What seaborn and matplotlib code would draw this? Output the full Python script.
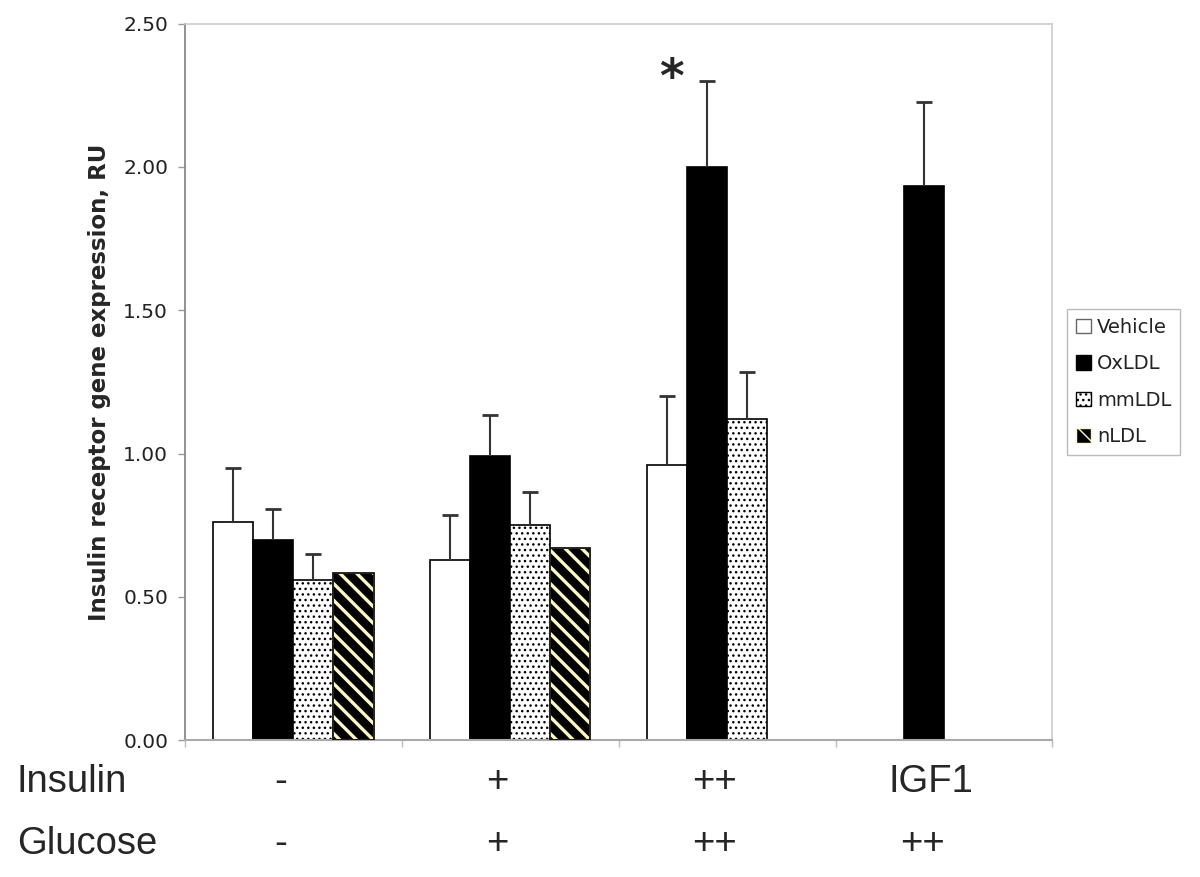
import numpy as np
import pandas as pd
import matplotlib
matplotlib.use("Agg")
import matplotlib.pyplot as plt
from matplotlib.patches import Patch, Rectangle
from matplotlib.ticker import FixedLocator, FormatStrFormatter
import seaborn as sns

sns.set_style("white")
plt.rcParams["font.family"] = ["DejaVu Sans"]
plt.rcParams["hatch.linewidth"] = 1.0

# ---- data ----
conditions = ["ctrl", "ins", "ins2", "igf1"]
insulin_labels = ["-", "+", "++", "IGF1"]
glucose_labels = ["-", "+", "++", "++"]
treatments = ["Vehicle", "OxLDL", "mmLDL", "nLDL"]

vehicle = [0.76, 0.63, 0.96, np.nan]
oxldl = [0.70, 0.99, 2.00, 1.935]
mmldl = [0.56, 0.75, 1.12, np.nan]
nldl = [0.585, 0.67, np.nan, np.nan]

err_vehicle = [0.19, 0.155, 0.24, np.nan]
err_oxldl = [0.105, 0.145, 0.30, 0.29]
err_mmldl = [0.09, 0.115, 0.165, np.nan]
err_nldl = [np.nan, np.nan, np.nan, np.nan]

significant = [False, False, True, False]

values = {"Vehicle": vehicle, "OxLDL": oxldl, "mmLDL": mmldl, "nLDL": nldl}
errors = {"Vehicle": err_vehicle, "OxLDL": err_oxldl, "mmLDL": err_mmldl, "nLDL": err_nldl}

rows = []
for t in treatments:
    for c, v, e in zip(conditions, values[t], errors[t]):
        rows.append({"condition": c, "treatment": t, "value": v, "err": e})
df = pd.DataFrame(rows)

face = {"Vehicle": "white", "OxLDL": "black", "mmLDL": "white", "nLDL": "black"}
STRIPE = "#fdf8c8"

fig = plt.figure(figsize=(12, 8.77), dpi=100)
ax = fig.add_axes([0.154, 0.156, 0.723, 0.817])

sns.barplot(
    data=df.dropna(subset=["value"]), x="condition", y="value", hue="treatment",
    order=conditions, hue_order=treatments, palette=face, width=0.74,
    errorbar=None, legend=False, edgecolor="black", linewidth=1.2,
    saturation=1, ax=ax,
)

# patterns + upward-only error bars
for t, cont in zip(treatments, ax.containers):
    for bar in cont:
        xc = bar.get_x() + bar.get_width() / 2
        ci = int(round(xc))
        top = bar.get_height()
        if t == "mmLDL":
            bar.set_hatch("...")
        elif t == "nLDL":
            bar.set_hatch("\\\\")
            bar.set_edgecolor(STRIPE)
            if hasattr(bar, "set_hatch_linewidth"):
                bar.set_hatch_linewidth(2.4)
            ax.add_patch(Rectangle((bar.get_x(), 0), bar.get_width(), top,
                                   fill=False, edgecolor="black", linewidth=1.2, zorder=3))
        e = errors[t][ci]
        if not np.isnan(e):
            ax.vlines(xc, top, top + e, color="#333333", linewidth=1.5, zorder=4)
            ax.plot([xc], [top + e], marker="_", markersize=11, markeredgewidth=2,
                    color="#333333", zorder=4)

ax.set_ylim(0, 2.5)
ax.set_xlim(-0.5, 3.5)
ax.yaxis.set_major_locator(FixedLocator(np.arange(0, 2.51, 0.5)))
ax.yaxis.set_major_formatter(FormatStrFormatter("%.2f"))
ax.tick_params(axis="y", direction="out", length=5, width=1, color="#999999",
               labelsize=14.5, labelcolor="#222222", pad=7, left=True)
ax.set_xticks([])
ax.xaxis.set_minor_locator(FixedLocator(np.arange(-0.5, 3.6, 1.0)))
ax.tick_params(axis="x", which="minor", direction="out", length=5, width=1,
               color="#bbbbbb", bottom=True)
ax.set_xlabel("")
ax.set_ylabel("Insulin receptor gene expression, RU", fontsize=16.5, fontweight="bold",
              labelpad=9)

for side in ["top", "right"]:
    ax.spines[side].set_visible(True)
    ax.spines[side].set_color("#cccccc")
    ax.spines[side].set_linewidth(1.2)
ax.spines["left"].set_color("#888888")
ax.spines["left"].set_linewidth(1.3)
ax.spines["bottom"].set_color("#aaaaaa")
ax.spines["bottom"].set_linewidth(1.5)

# significance star
for i, sig in enumerate(significant):
    if sig:
        ax.text(i - 0.255, 2.26, "*", fontsize=34, fontweight="bold",
                ha="center", va="baseline")

# condition rows below the axis
trans = matplotlib.transforms.blended_transform_factory(ax.transData, fig.transFigure)
row_font = dict(family="Liberation Sans", fontsize=27.5, va="baseline", ha="center")
fig.text(0.014, 1 - 792 / 877, "Insulin", ha="left", va="baseline",
         family="Liberation Sans", fontsize=27.5)
fig.text(0.014, 1 - 854 / 877, "Glucose", ha="left", va="baseline",
         family="Liberation Sans", fontsize=27.5)
glucose_shift = [-0.06, -0.06, -0.06, -0.10]
for i, (ins, glu) in enumerate(zip(insulin_labels, glucose_labels)):
    ax.text(i - 0.06, 1 - 792 / 877, ins, transform=trans, **row_font)
    ax.text(i + glucose_shift[i], 1 - 854 / 877, glu, transform=trans, **row_font)

# legend
handles = [
    Patch(facecolor="white", edgecolor="#666666", linewidth=1),
    Patch(facecolor="black", edgecolor="black", linewidth=1),
    Patch(facecolor="white", edgecolor="black", hatch="...", linewidth=1),
    Patch(facecolor="black", edgecolor="black", linewidth=1),
]
leg = fig.legend(handles, treatments, loc="upper left", bbox_to_anchor=(1067 / 1200, 1 - 309 / 877),
                 fontsize=14, frameon=True, fancybox=False, framealpha=1, edgecolor="#bbbbbb",
                 handlelength=0.8, handleheight=0.8, handletextpad=0.3, labelspacing=0.9,
                 borderpad=0.45, borderaxespad=0)
leg.get_frame().set_linewidth(1)
for txt in leg.get_texts():
    txt.set_color("#222222")
# striped handle for nLDL
h = leg.legend_handles[3]
h.set_hatch("\\\\")
h.set_edgecolor(STRIPE)

fig.savefig("out.png", dpi=100)
